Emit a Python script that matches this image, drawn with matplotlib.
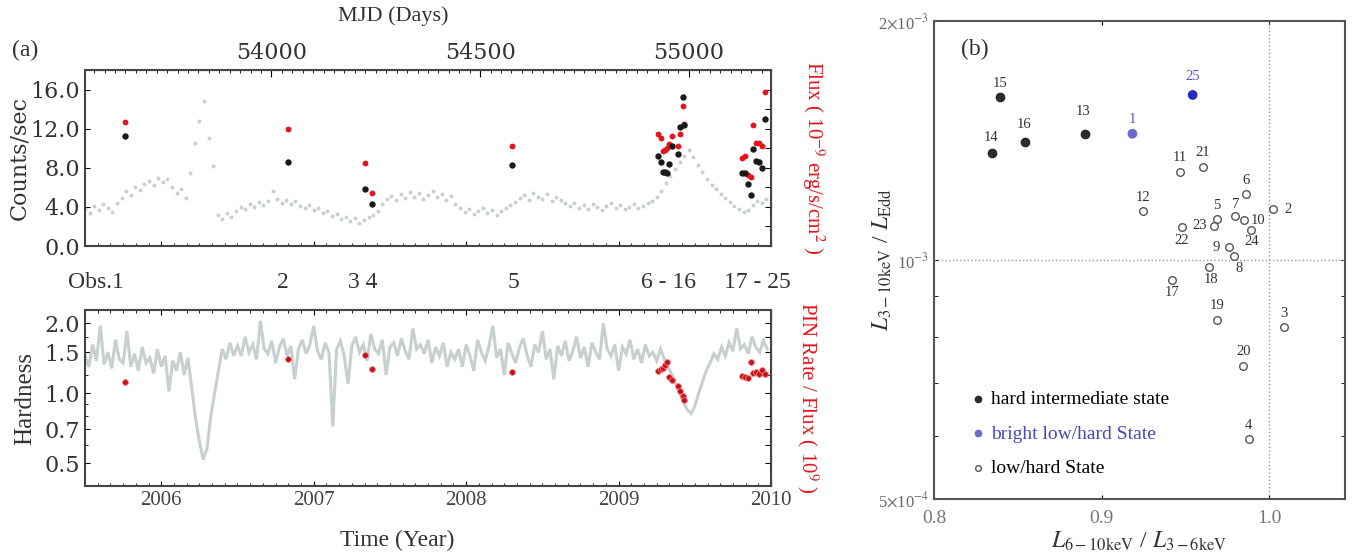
import matplotlib
matplotlib.use("Agg")
import matplotlib.pyplot as plt
import numpy as np
import matplotlib.transforms as mtransforms
from matplotlib.ticker import MultipleLocator, FixedLocator, NullFormatter, FormatStrFormatter, LogLocator

plt.rcParams['font.family'] = ['Liberation Serif', 'DejaVu Serif']
plt.rcParams['mathtext.fontset'] = 'stix'

# ---------------- panel (a) data ----------------
# ASM light curve (counts/sec), sampled every 0.03 yr from 2005.50
asm_t0, asm_dt = 2005.50, 0.03
asm_rate = [3.8, 3.4, 4.1, 3.7, 4.3, 3.9, 3.5, 4.4,
            4.9, 5.6, 5.2, 6.0, 5.7, 6.3,
            6.6, 6.2, 7.0, 6.5, 6.9,
            6.0, 5.4, 5.8, 4.9,
            7.5, 10.5, 12.8, 14.8, 11.0, 8.2,
            3.2, 2.8, 3.4, 3.0,
            3.6, 4.0, 3.8, 4.3, 4.0, 4.5, 4.2, 4.6,
            5.6, 4.8, 4.4, 4.7, 4.3, 4.6, 4.1, 3.9, 4.2, 3.7, 3.9, 3.4, 3.6,
            3.1, 3.3, 2.8, 3.0, 2.6, 2.9, 2.4, 2.7, 3.0, 3.2, 3.6,
            4.3, 4.8, 5.1, 4.7, 5.3, 4.9, 5.5, 5.0, 5.4, 4.8, 5.2, 5.6, 5.0, 5.3, 4.7, 5.1,
            4.3, 3.9, 3.5, 3.8, 3.3, 3.6, 3.9, 3.4, 3.7, 3.2, 3.6, 3.9, 4.2, 4.5,
            4.9, 5.2, 4.7, 5.4, 5.0, 4.8, 5.3, 4.6, 5.0, 4.7, 4.4,
            4.1, 4.4, 3.9, 4.2, 3.8, 4.3, 4.0, 3.7, 4.1, 4.4, 3.9, 4.2, 3.8, 4.0, 4.3, 3.9, 4.1, 4.4, 4.6, 5.0,
            5.6, 6.4, 7.2, 7.9, 8.6, 9.2, 9.8, 9.1, 8.3,
            7.6, 6.9, 6.2, 5.8, 5.3, 4.9, 4.5, 4.1, 3.8, 3.5, 3.7,
            4.2, 4.6, 4.4, 4.8]

# ASM hardness, sampled every 0.025 yr from 2005.50
hr_t0, hr_dt = 2005.50, 0.025
asm_hard = [1.45, 1.30, 1.62, 1.38, 1.95, 1.33, 1.50, 1.28, 1.70, 1.40, 1.35, 1.85, 1.30, 1.48,
            1.25, 1.58, 1.35, 1.42, 1.22, 1.55, 1.30, 1.45, 1.02, 1.38, 1.25, 1.50, 1.20, 1.42,
            1.05, 0.78, 0.62, 0.52, 0.58, 0.80, 1.00,
            1.25, 1.55, 1.40, 1.65, 1.45,
            1.60, 1.45, 1.75, 1.50, 1.62, 1.40, 2.05, 1.55, 1.48, 1.68, 1.35, 1.58, 1.72, 1.45,
            1.60, 1.15, 1.55, 1.70, 1.48, 1.62, 1.95, 1.52, 1.40, 1.65, 1.50,
            0.72,
            1.55, 1.68, 1.45, 1.10, 1.60, 1.75, 1.50, 1.62, 1.38, 1.80, 1.55, 1.48, 1.70, 1.20,
            1.58, 1.65, 1.45, 1.72, 1.52, 1.40, 1.90, 1.55, 1.62, 1.48, 1.70, 1.35, 1.58, 1.45,
            1.65, 1.30, 1.50,
            1.40, 1.55, 1.30, 1.62, 1.45, 1.25, 1.70, 1.50, 1.38, 1.60,
            1.95, 1.42, 1.55, 1.20, 1.65, 1.48, 1.35, 1.58, 1.72, 1.45,
            1.30, 1.62, 1.50, 1.85, 1.40, 1.55, 1.15, 1.60, 1.45, 1.68,
            1.38, 1.52, 1.75, 1.42, 1.58, 1.30, 1.65, 1.50, 1.40, 2.00,
            1.55, 1.45, 1.62, 1.25, 1.58, 1.48, 1.70, 1.40, 1.55, 1.35,
            1.62, 1.45, 1.50, 1.38, 1.55,
            1.40, 1.30, 1.20, 1.10, 1.00, 0.92, 0.85, 0.82, 0.88, 1.00, 1.12, 1.25,
            1.35, 1.48, 1.40, 1.58, 1.45, 1.65, 1.52, 1.90, 1.55, 1.62, 1.48, 1.75, 1.58, 1.50,
            1.68, 1.55]

# Suzaku observations 1..25
obs_time = [2005.76, 2006.83, 2007.335, 2007.38, 2008.30,
            2009.26, 2009.28, 2009.29, 2009.305, 2009.32, 2009.33, 2009.35, 2009.39, 2009.40,
            2009.425, 2009.43,
            2009.81, 2009.83, 2009.85, 2009.87, 2009.88, 2009.90, 2009.92, 2009.94, 2009.96]
obs_counts = [11.3, 8.6, 5.8, 4.3, 8.3,
              9.25, 8.6, 7.6, 7.6, 7.5, 8.4, 10.2, 9.4, 12.2, 15.2, 12.4,
              7.5, 7.5, 6.3, 5.2, 9.9, 8.7, 8.6, 8.0, 13.0]
obs_flux = [12.7, 12.0, 8.5, 5.4, 10.2,
            11.5, 11.0, 9.7, 9.8, 10.0, 10.4, 11.3, 10.2, 11.5, 14.3, 12.5,
            9.0, 9.25, 7.3, 7.1, 12.4, 10.55, 10.5, 10.2, 15.7]
obs_hard = [1.12, 1.40, 1.46, 1.27, 1.23,
            1.25, 1.27, 1.29, 1.33, 1.36, 1.18, 1.14, 1.08, 1.02, 0.97, 0.94,
            1.19, 1.18, 1.16, 1.36, 1.22, 1.24, 1.21, 1.26, 1.21]

obs_group_label = ['Obs.1', '2', '3 4', '5', '6 - 16', '17 - 25']
obs_group_time = [2005.755, 2006.80, 2007.32, 2008.31, 2009.33, 2009.91]

# ---------------- panel (b) data ----------------
obs_id = list(range(1, 26))
color_ratio = [0.9183, 1.0020, 1.0089, 0.9875, 0.9688, 0.9861, 0.9792, 0.9786, 0.9758, 0.9851,
               0.9468, 0.9246, 0.8899, 0.8343, 0.8393, 0.8540, 0.9421, 0.9637, 0.9685, 0.9845,
               0.9603, 0.9478, 0.9668, 0.9891, 0.9542]
lum_edd = [1.442e-3, 1.159e-3, 0.823e-3, 0.595e-3, 1.126e-3, 1.210e-3, 1.137e-3, 1.011e-3,
           1.037e-3, 1.122e-3, 1.291e-3, 1.152e-3, 1.442e-3, 1.362e-3, 1.604e-3, 1.407e-3,
           0.945e-3, 0.981e-3, 0.841e-3, 0.736e-3, 1.311e-3, 1.102e-3, 1.104e-3, 1.091e-3,
           1.614e-3]
state = ['bright', 'lh', 'lh', 'lh', 'lh', 'lh', 'lh', 'lh', 'lh', 'lh', 'lh', 'lh',
         'hi', 'hi', 'hi', 'hi', 'lh', 'lh', 'lh', 'lh', 'lh', 'lh', 'lh', 'lh', 'bright']

# label offsets (pixels) around each point
lab_off = {2: (15, 0), 10: (14, 0), 23: (-14, 0), 9: (-13, 0), 22: (0, -14), 24: (0, -12),
           8: (6, -12), 18: (2, -13), 17: (0, -13), 7: (1, 11), 13: (-2, 22), 16: (-1, 18),
           14: (0, 16), 25: (0, 18)}

RED = '#e8141c'
GRAY = '#c6d0cf'
DARK = '#333333'

fig = plt.figure(figsize=(13.52, 5.6), dpi=100)
ax1 = fig.add_axes([0.0629, 0.5607, 0.5074, 0.3143])
ax2 = fig.add_axes([0.0629, 0.1321, 0.5074, 0.3143])
ax3 = fig.add_axes([0.6908, 0.1089, 0.3040, 0.8536])

asm_t = asm_t0 + asm_dt * np.arange(len(asm_rate))
hr_t = hr_t0 + hr_dt * np.arange(len(asm_hard))

# ---- top: light curve ----
ax1.plot(asm_t, asm_rate, 'o', ms=2.8, color=GRAY, mec='none')
ax1.plot(obs_time, obs_flux, 'o', ms=4.2, color=RED, mec='none', zorder=3)
ax1.plot(obs_time, obs_counts, 'o', ms=4.6, color='#1a1a1a', mec='none', zorder=4)
ax1.set_xlim(2005.5, 2010.0)
ax1.set_ylim(0, 18)
ax1.yaxis.set_major_locator(FixedLocator([0, 4, 8, 12, 16]))
ax1.yaxis.set_major_formatter(FormatStrFormatter('%.1f'))
ax1.xaxis.set_major_locator(MultipleLocator(1))
ax1.xaxis.set_minor_locator(MultipleLocator(1 / 12))
ax1.tick_params(axis='x', which='both', labelbottom=False, top=False, direction='in')
ax1.tick_params(axis='y', which='both', direction='in', labelsize=16, labelcolor=DARK, right=False)
for lab in ax1.get_yticklabels():
    lab.set_family('DejaVu Serif')
ax1.set_ylabel('Counts/sec', fontsize=16, color=DARK, family='DejaVu Serif', labelpad=0)

yr2mjd = lambda y: 53736 + (y - 2006) * 365.25
mjd2yr = lambda m: 2006 + (m - 53736) / 365.25
sec = ax1.secondary_xaxis('top', functions=(yr2mjd, mjd2yr))
sec.xaxis.set_major_locator(FixedLocator([54000, 54500, 55000]))
sec.xaxis.set_minor_locator(MultipleLocator(25))
sec.tick_params(which='both', direction='in', labelsize=16, labelcolor=DARK, pad=4)
sec.tick_params(which='major', length=5)
for lab in sec.get_xticklabels():
    lab.set_family('DejaVu Serif')
fig.text(393 / 1352, 1 - 16 / 560, 'MJD (Days)', fontsize=16, color=DARK, ha='center',
         va='center')

secy = ax1.secondary_yaxis('right')
secy.yaxis.set_major_locator(MultipleLocator(2))
secy.yaxis.set_major_formatter(NullFormatter())
secy.tick_params(direction='in', length=4)
secy.set_ylabel(r'Flux ( 10$^{-9}$ erg/s/cm$^{2}$ )', color=RED, fontsize=15,
                rotation=270, labelpad=36)

# ---- bottom: hardness ----
ax2.plot(hr_t, asm_hard, '-', lw=2.2, color=GRAY, solid_joinstyle='miter')
ax2.plot(obs_time, obs_hard, 'o', ms=4.2, color='#c0141c', mec='#ff8080', mew=0.6, zorder=4)
ax2.set_yscale('log')
ax2.set_xlim(2005.5, 2010.0)
ax2.set_ylim(0.40, 2.28)
ax2.yaxis.set_major_locator(FixedLocator([0.5, 0.7, 1.0, 1.5, 2.0]))
ax2.yaxis.set_major_formatter(FormatStrFormatter('%.1f'))
ax2.yaxis.set_minor_locator(FixedLocator([0.6, 0.8, 0.9, 1.2, 1.75]))
ax2.yaxis.set_minor_formatter(NullFormatter())
ax2.xaxis.set_major_locator(MultipleLocator(1))
ax2.xaxis.set_major_formatter(FormatStrFormatter('%d'))
ax2.xaxis.set_minor_locator(MultipleLocator(1 / 12))
ax2.tick_params(axis='x', which='both', direction='in', top=True, labelsize=15, labelcolor='#444')
ax2.tick_params(axis='y', which='both', direction='in', labelsize=16, labelcolor=DARK)
for lab in ax2.get_yticklabels():
    lab.set_family('DejaVu Serif')
ax2.set_ylabel('Hardness', fontsize=18, color=DARK, labelpad=6)
ax2.set_xlabel('Time (Year)', fontsize=17, color=DARK, labelpad=6)
ax2.xaxis.set_label_coords(0.455, -0.25)

secy2 = ax2.secondary_yaxis('right')
secy2.set_yscale('log')
secy2.yaxis.set_major_locator(FixedLocator([0.5, 0.6, 0.7, 0.8, 1.0, 1.2, 1.5, 1.75, 2.0]))
secy2.yaxis.set_minor_locator(FixedLocator([]))
secy2.yaxis.set_major_formatter(NullFormatter())
secy2.tick_params(direction='in', length=4)
secy2.set_ylabel(r'PIN Rate / Flux ( 10$^{9}$ )', color=RED, fontsize=15, rotation=270,
                 labelpad=32)

for ax in (ax1, ax2):
    for sp in ax.spines.values():
        sp.set_color('#444')
        sp.set_linewidth(1.5)

# observation labels between panels
trans = mtransforms.blended_transform_factory(ax1.transData, fig.transFigure)
for lab, t in zip(obs_group_label, obs_group_time):
    ha = 'right' if lab.startswith('Obs') else 'center'
    fig.text(t, 1 - 283 / 560, lab, transform=trans, ha=ha, va='center', fontsize=17,
             color=DARK)
fig.text(12 / 1352, 1 - 50 / 560, '(a)', fontsize=17, color=DARK, va='center')

# ---- panel (b) ----
ax3.axvline(1.0, color='#999999', ls=':', lw=1)
ax3.axhline(1e-3, color='#999999', ls=':', lw=1)
cr = np.array(color_ratio)
le = np.array(lum_edd)
st = np.array(state)
h_hi = ax3.scatter(cr[st == 'hi'], le[st == 'hi'], s=36, c='#2b2b2b', zorder=3,
                   label='hard intermediate state')
h_br = ax3.scatter(cr[st == 'bright'], le[st == 'bright'], s=36, c=['#6a6ac8', '#2a2ab8'],
                   zorder=3, label='bright low/hard State')
h_lh = ax3.scatter(cr[st == 'lh'], le[st == 'lh'], s=30, facecolors='white', edgecolors='#555555',
                   linewidths=1, zorder=3, label='low/hard State')
for i, x, y, s in zip(obs_id, color_ratio, lum_edd, state):
    dx, dy = lab_off.get(i, (0, 14))
    col = '#5656d0' if s == 'bright' else '#333333'
    ax3.annotate(str(i), (x, y), xytext=(dx, dy), textcoords='offset pixels', ha='center',
                 va='center', fontsize=10.5, color=col)

ax3.set_xlim(0.8, 1.045)
ax3.set_yscale('log')
ax3.set_ylim(5e-4, 2e-3)
ax3.xaxis.set_major_locator(FixedLocator([0.8, 0.9, 1.0]))
ax3.xaxis.set_major_formatter(FormatStrFormatter('%.1f'))
ax3.yaxis.set_major_locator(FixedLocator([5e-4, 1e-3, 2e-3]))
ax3.set_yticklabels([r'5$\times$10$^{-4}$', r'10$^{-3}$', r'2$\times$10$^{-3}$'])
ax3.yaxis.set_minor_locator(LogLocator(base=10, subs=np.arange(2, 10), numticks=10))
ax3.yaxis.set_minor_formatter(NullFormatter())
ax3.tick_params(which='both', direction='in', top=True, right=True, length=3)
ax3.tick_params(axis='x', labelsize=14, labelcolor='#777777', pad=8)
ax3.tick_params(axis='y', labelsize=12, labelcolor='#666666')
for sp in ax3.spines.values():
    sp.set_color('#555')
    sp.set_linewidth(1.5)
ax3.set_xlabel(r'$L_{\rm 6-10keV}$ / $L_{\rm 3-6keV}$', fontsize=17, color=DARK, labelpad=2)
ax3.set_ylabel(r'$L_{\rm 3-10keV}$ / $L_{\rm Edd}$', fontsize=17, color=DARK, labelpad=-12)
ax3.text(0.065, 0.94, '(b)', transform=ax3.transAxes, fontsize=17, color=DARK, va='center')

leg = ax3.legend(handles=[h_hi, h_br, h_lh], loc='lower left', bbox_to_anchor=(0.04, 0.01),
                 frameon=False, fontsize=14, handletextpad=0.2, labelspacing=0.85,
                 handlelength=1.0, markerscale=0.75)
leg.legend_handles[1].set_color('#6a6ac8')
leg.get_texts()[1].set_color('#4848b8')

fig.savefig('out.png', dpi=100)
